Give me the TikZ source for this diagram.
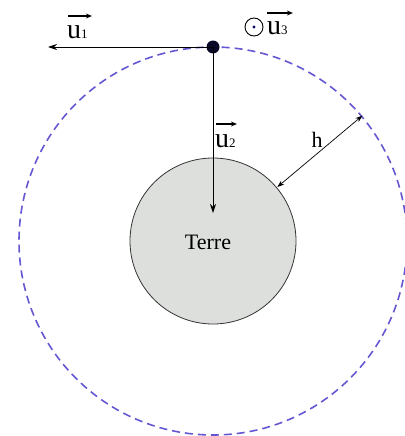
\documentclass[tikz,border=0pt]{standalone}
\usepackage{fontspec}
\setmainfont{Liberation Serif}
\usetikzlibrary{arrows.meta,calc}
\definecolor{orbitblue}{RGB}{100,88,210}
\definecolor{earthgray}{RGB}{221,223,221}
\definecolor{satnavy}{RGB}{10,10,40}
\tikzset{
  vec/.style={-{Stealth[length=9pt,width=6pt]},line width=0.9pt},
  hat/.style={-{Stealth[length=6pt,width=5pt]},line width=1.2pt},
  ulbl/.style={font=\fontsize{28}{28}\selectfont,inner sep=0pt,anchor=base west},
  lbl/.style={font=\fontsize{22}{24}\selectfont,inner sep=0pt,anchor=base},
}
\newcommand{\subnum}[1]{{\fontsize{13}{13}\selectfont #1}}
\begin{document}
\begin{tikzpicture}[x=1pt,y=-1pt]
\useasboundingbox (0,0) rectangle (404,436);
\coordinate (O) at (213,241);
\draw[orbitblue,dash pattern=on 8pt off 5pt,line width=1.6pt] (O) circle[radius=194];
\node[circle,draw=black!80,fill=earthgray,minimum size=166pt,inner sep=0pt,line width=0.8pt] (earth) at (O) {};
\node[lbl] (terre) at (208,249) {Terre};
\node[circle,fill=satnavy,minimum size=13pt,inner sep=0pt] (sat) at (213,47) {};
\coordinate (u1end) at (48,47);
\coordinate (u2end) at (213,213);
\draw[vec] (sat.center) -- (u1end);
\draw[vec] (sat.center) -- (u2end);
% u1
\node[ulbl] (u1) at (67,38) {u\subnum{1}};
\draw[hat] ($(u1.base west)+(1,-22)$) -- ($(u1.base east)+(4,-22)$);
% u2
\node[ulbl] (u2) at (215,147) {u\subnum{2}};
\draw[hat] ($(u2.base west)+(1,-23)$) -- ($(u2.base east)+(1,-23)$);
% u3
\node[circle,draw=black,line width=0.9pt,minimum size=18pt,inner sep=0pt] (odot) at (254,27) {};
\fill[satnavy!70!blue] (odot.center) circle[radius=1.6];
\node[ulbl] (u3) at (267,35) {u\subnum{3}};
\draw[hat] ($(u3.base west)+(0,-22)$) -- ($(u3.base east)+(5,-22)$);
% h
\path (O) ++(-40:84) coordinate (hA);
\path (O) ++(-40:195) coordinate (hB);
\draw[{Stealth[length=7pt,width=5pt]}-{Stealth[length=7pt,width=5pt]},line width=0.7pt] (hA) -- (hB);
\node[lbl] (h) at (317,147) {h};
\end{tikzpicture}
\end{document}
